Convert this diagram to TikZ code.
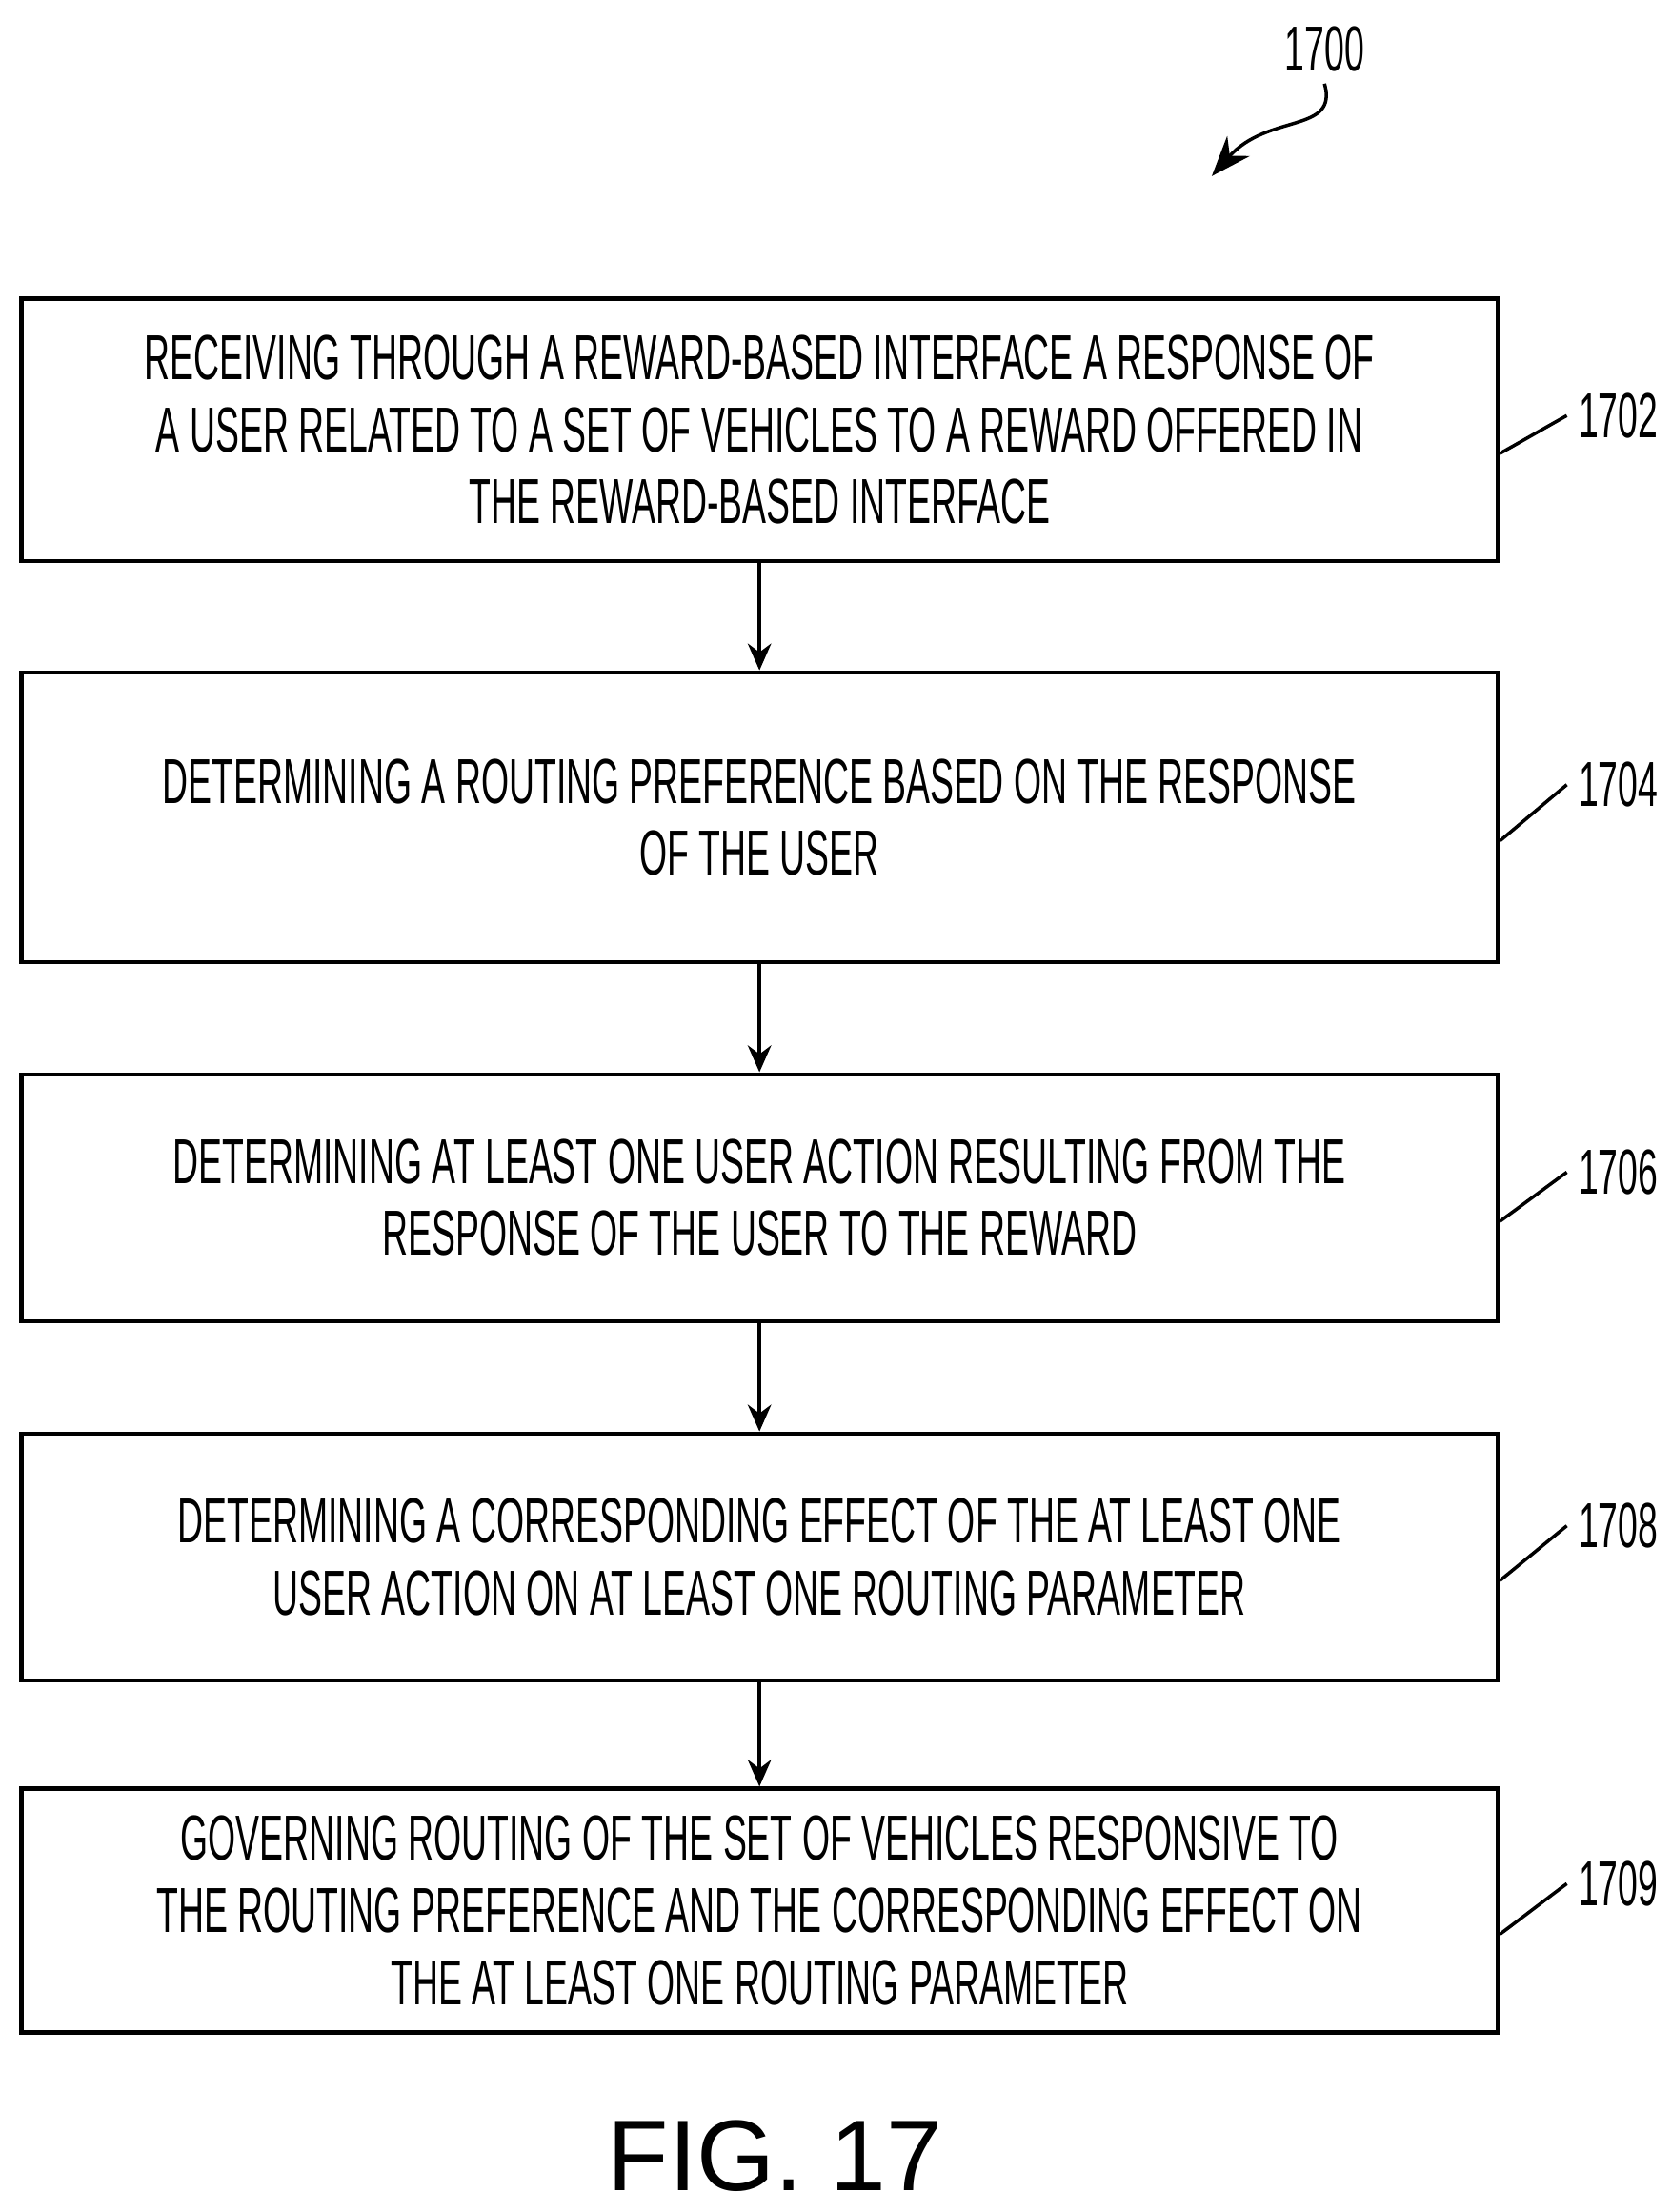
\documentclass[tikz,border=0pt]{standalone}
\usepackage{fontspec}
\setmainfont{Liberation Sans}
\newfontfamily\narrowfont{Liberation Sans}[FakeStretch=0.56]
\usetikzlibrary{positioning,arrows.meta,calc}

\begin{document}
\begin{tikzpicture}[
    x=0.01478cm, y=-0.01478cm,
    stepbox/.style={rectangle, draw, line width=1.2pt, minimum width=15.49cm, align=center, font=\narrowfont\fontsize{19}{21.5}\selectfont, inner sep=0pt},
    ref/.style={font=\narrowfont\fontsize{19}{22}\selectfont, anchor=west},
    flow/.style={-{Stealth[length=8pt,width=7pt]}, line width=1pt},
    leader/.style={line width=1pt}
]
    \useasboundingbox (0,0) rectangle (1186,1570);

    % steps
    \node[stepbox, minimum height=2.75cm] (s1702) at (539,305) {
        RECEIVING THROUGH A REWARD-BASED INTERFACE A RESPONSE OF\\
        A USER RELATED TO A SET OF VEHICLES TO A REWARD OFFERED IN\\
        THE REWARD-BASED INTERFACE};
    \node[stepbox, minimum height=3.04cm] (s1704) at (539,580) {
        DETERMINING A ROUTING PREFERENCE BASED ON THE RESPONSE\\
        OF THE USER};
    \node[stepbox, minimum height=2.59cm] (s1706) at (539,850) {
        DETERMINING AT LEAST ONE USER ACTION RESULTING FROM THE\\
        RESPONSE OF THE USER TO THE REWARD};
    \node[stepbox, minimum height=2.59cm] (s1708) at (539,1105) {
        DETERMINING A CORRESPONDING EFFECT OF THE AT LEAST ONE\\
        USER ACTION ON AT LEAST ONE ROUTING PARAMETER};
    \node[stepbox, minimum height=2.56cm] (s1709) at (539,1356) {
        GOVERNING ROUTING OF THE SET OF VEHICLES RESPONSIVE TO\\
        THE ROUTING PREFERENCE AND THE CORRESPONDING EFFECT ON\\
        THE AT LEAST ONE ROUTING PARAMETER};

    % arrows
    \draw[flow] (s1702) -- (s1704);
    \draw[flow] (s1704) -- (s1706);
    \draw[flow] (s1706) -- (s1708);
    \draw[flow] (s1708) -- (s1709);

    % reference numerals
    \foreach \n/\y in {1702/295, 1704/557, 1706/832, 1708/1083, 1709/1337} {
        \node[ref] (l\n) at (1112,\y) {\n};
        \draw[leader] ([yshift=-0.25cm]s\n.east) .. controls +(0.45,0) and +(-0.35,0) .. (l\n.west);
    }

    % figure number
    \node[font=\fontsize{30}{34}\selectfont] (fig) at (550,1530) {FIG. 17};
    \node[ref, anchor=center] (l1700) at (940,35) {1700};
    \coordinate (tip) at (860,125);
    \draw[-{Stealth[length=12pt,width=9pt]}, line width=1pt] (l1700.south)
        .. controls (950,95) and (900,80) .. (tip);
\end{tikzpicture}
\end{document}
